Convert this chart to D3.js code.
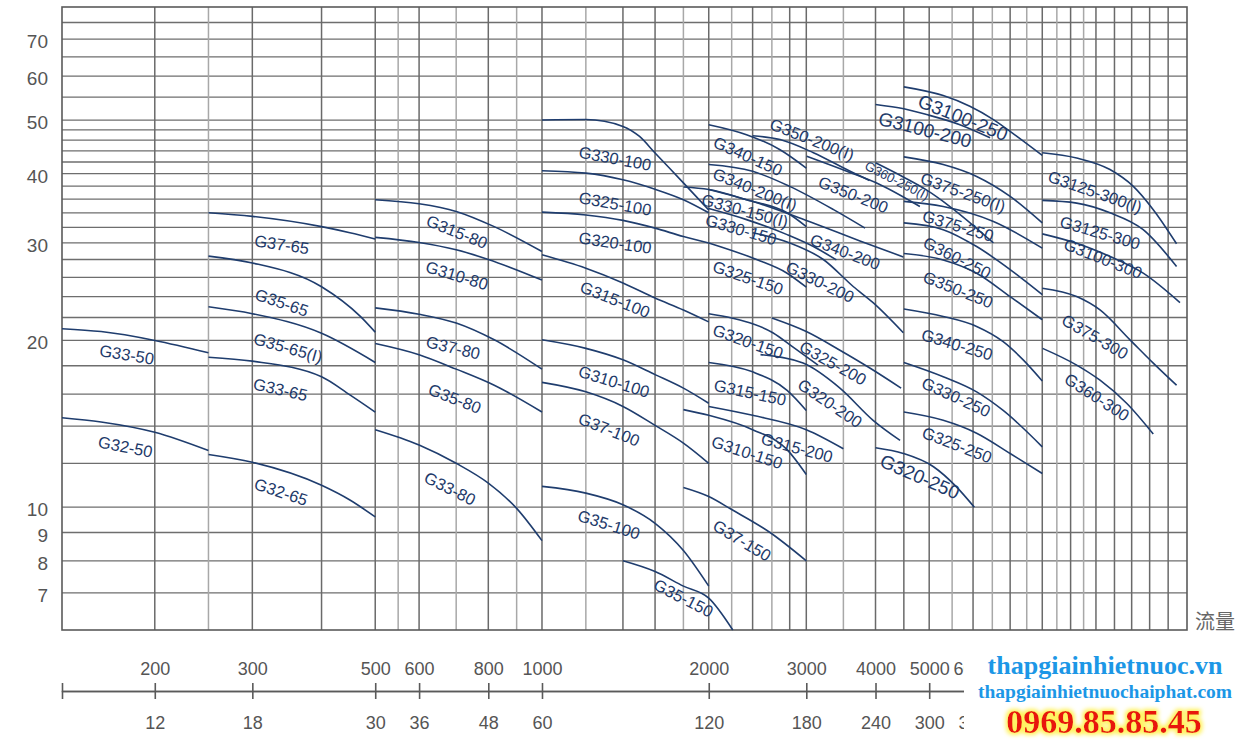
<!DOCTYPE html>
<html>
<head>
<meta charset="utf-8">
<script src="https://cdn.jsdelivr.net/npm/d3@7"></script>
<style>
  body { margin: 0; background: #fff; }
  text { font-family: "Liberation Sans", Arial, Helvetica, sans-serif; }
  text.wm { font-family: "Liberation Serif", "Times New Roman", serif; font-weight: bold; }
</style>
</head>
<body>
<script>
// head (m) on the left, flow (L/min above, m3/h below) along the bottom
const hTicks = [7, 8, 9, 10, 20, 30, 40, 50, 60, 70];
const hGrid = [7, 8, 9, 10, 12, 14, 16, 18, 20, 22, 24, 26, 28, 30, 32, 34, 36, 38, 40, 42, 44, 46, 48, 50, 55, 60, 65, 70, 75];
const qGrid = [200, 250, 300, 400, 500, 550, 600, 700, 800, 900, 1000, 1200, 1400, 1600, 1800, 2000, 2200, 2400, 2600, 2800,
               3000, 3500, 4000, 4500, 5000, 5500, 6000, 6500, 7000, 7500, 8000, 8500, 9000, 9500, 10000, 10800, 11600, 12500, 13500];
const qLight = [250, 550, 700, 900, 1200, 1800, 2200, 2600, 3500, 5500, 6500, 7500, 8500, 9500];
const qTicks = [200, 300, 500, 600, 800, 1000, 2000, 3000, 4000, 5000, 6000];
const m3hTicks = [12, 18, 30, 36, 48, 60, 120, 180, 240, 300, 360];

// pump curves: [model, [[flow L/min, head m], ...]]
const curves = [
  ["G33-50", [[136, 21.0], [160, 20.75], [200, 20.0], [250, 19.0]]],
  ["G32-50", [[136, 14.5], [160, 14.25], [200, 13.65], [250, 12.65]]],
  ["G37-65", [[250, 34.0], [300, 33.5], [400, 32.1], [450, 31.3], [500, 30.5]]],
  ["G35-65", [[250, 28.4], [300, 27.6], [400, 25.0], [470, 22.1], [500, 20.7]]],
  ["G35-65(I)", [[250, 23.0], [300, 22.35], [400, 20.6], [500, 18.25]]],
  ["G33-65", [[250, 18.65], [300, 18.35], [400, 17.2], [450, 15.95], [500, 14.85]]],
  ["G32-65", [[250, 12.45], [300, 12.05], [400, 10.95], [450, 10.3], [500, 9.6]]],
  ["G315-80", [[500, 35.9], [600, 35.3], [700, 34.2], [820, 32.1], [1000, 28.95]]],
  ["G310-80", [[500, 30.7], [600, 30.05], [700, 29.15], [800, 28.0], [1000, 25.7]]],
  ["G37-80", [[500, 22.9], [600, 22.3], [700, 21.5], [820, 20.05], [1000, 17.75]]],
  ["G35-80", [[500, 19.75], [600, 18.85], [700, 17.75], [820, 16.6], [1000, 14.85]]],
  ["G33-80", [[500, 13.8], [600, 12.95], [700, 12.0], [800, 11.05], [900, 9.95], [1000, 8.7]]],
  ["G330-100", [[1000, 50.0], [1200, 50.1], [1400, 48.7], [1500, 46.7], [1600, 43.6], [1800, 38.5], [2000, 34.4]]],
  ["G325-100", [[1000, 40.5], [1200, 40.1], [1400, 39.0], [1600, 37.5], [1800, 35.9], [2000, 34.0]]],
  ["G320-100", [[1000, 34.1], [1200, 33.7], [1400, 32.95], [1600, 31.9], [1800, 30.8], [2000, 30.0]]],
  ["G315-100", [[1000, 28.55], [1200, 27.0], [1400, 25.4], [1600, 23.85], [1800, 22.7], [2000, 21.6]]],
  ["G310-100", [[1000, 20.05], [1200, 19.35], [1400, 18.45], [1600, 17.35], [1800, 16.4], [2000, 15.4]]],
  ["G37-100", [[1000, 16.8], [1200, 16.15], [1400, 15.2], [1600, 14.05], [1800, 13.05], [2000, 12.0]]],
  ["G35-100", [[1000, 10.9], [1200, 10.6], [1400, 10.1], [1600, 9.35], [1800, 8.35], [2000, 7.2]]],
  ["G35-150", [[1400, 8.0], [1600, 7.65], [1800, 7.2], [2000, 6.85], [2210, 6.0]]],
  ["G37-150", [[1800, 10.85], [2000, 10.45], [2200, 9.9], [2580, 9.0], [3000, 8.0]]],
  ["G310-150", [[1800, 15.0], [2000, 14.65], [2400, 13.8], [2770, 12.7], [3000, 11.45]]],
  ["G315-200", [[2000, 15.2], [2400, 14.65], [3000, 13.8], [3500, 12.75]]],
  ["G315-150", [[2000, 18.25], [2400, 17.55], [2770, 16.25], [3000, 14.95]]],
  ["G320-150", [[2000, 22.35], [2200, 21.95], [2610, 20.65], [2840, 19.45], [3150, 18.05]]],
  ["G320-200", [[2480, 18.85], [2960, 18.2], [3450, 16.4], [3960, 14.35], [4430, 13.2]]],
  ["G325-200", [[2600, 21.95], [3000, 20.75], [3450, 19.2], [3900, 17.85], [4450, 16.4]]],
  ["G325-150", [[2000, 30.0], [2440, 28.0], [2770, 26.45], [3000, 24.95]]],
  ["G340-150", [[2000, 49.05], [2340, 47.05], [2690, 44.2], [3000, 40.95]]],
  ["G350-200(I)", [[2400, 46.85], [2690, 46.1], [3090, 43.65], [3600, 40.4], [3900, 38.9]]],
  ["G340-200(I)", [[2000, 41.55], [2400, 40.4], [2800, 37.95], [3360, 34.45], [3830, 31.9]]],
  ["G330-150(I)", [[1800, 37.85], [2000, 37.45], [2340, 35.9], [2770, 34.0], [3000, 32.1]]],
  ["G330-150", [[2000, 34.6], [2340, 33.05], [2770, 31.05], [3090, 29.55], [3400, 27.95]]],
  ["G340-200", [[2000, 37.45], [2475, 35.3], [3045, 32.75], [3750, 30.25], [4490, 28.3]]],
  ["G330-200", [[2400, 31.3], [2800, 30.0], [3220, 28.0], [3650, 25.0], [3960, 23.4], [4490, 20.65]]],
  ["G350-200", [[3005, 43.0], [3550, 40.4], [4070, 38.25], [4810, 34.9]]],
  ["G360-250(I)", [[4000, 41.85], [4490, 39.45], [4950, 37.35], [5450, 34.9], [6530, 30.0]]],
  ["G3100-250", [[4500, 57.4], [5300, 55.35], [5920, 52.95], [6530, 50.1], [7190, 46.75], [8000, 43.15]]],
  ["G3100-200", [[4000, 53.35], [4500, 52.4], [4950, 51.15], [5680, 49.05], [6440, 46.45]]],
  ["G375-250(I)", [[4500, 42.9], [5300, 41.55], [6090, 39.55], [7000, 36.4], [8000, 32.6]]],
  ["G375-250", [[4500, 35.65], [5300, 34.9], [6530, 32.8], [8000, 29.35]]],
  ["G360-250", [[4500, 32.6], [5300, 31.7], [6090, 29.55], [7000, 26.85], [8000, 24.2]]],
  ["G350-250", [[4500, 28.7], [5300, 27.95], [6090, 26.45], [7000, 24.0], [8000, 21.8]]],
  ["G340-250", [[4500, 22.8], [5300, 22.1], [6090, 21.2], [6800, 19.9], [7390, 18.45], [8000, 16.9]]],
  ["G330-250", [[4500, 18.25], [5300, 17.2], [6090, 16.15], [6800, 14.95], [8000, 12.85]]],
  ["G325-250", [[4500, 14.85], [5300, 14.35], [6090, 13.6], [7000, 12.5], [8000, 11.5]]],
  ["G320-250", [[4000, 12.8], [4490, 12.5], [5090, 11.83], [5600, 10.88], [6030, 10.0]]],
  ["G3125-300(I)", [[8000, 43.65], [9230, 42.7], [10600, 40.7], [11680, 37.95], [12690, 34.45], [13980, 29.9]]],
  ["G3125-300", [[8000, 35.8], [9230, 35.4], [10600, 34.0], [12170, 31.7], [13980, 27.2]]],
  ["G3100-300", [[8000, 31.15], [9230, 29.95], [10600, 28.35], [12170, 26.45], [14180, 23.4]]],
  ["G375-300", [[8000, 24.85], [9230, 24.0], [10170, 22.7], [11520, 20.05], [12690, 18.2], [13980, 16.6]]],
  ["G360-300", [[8010, 19.35], [9230, 18.05], [10170, 16.95], [11360, 15.4], [12690, 13.55]]]
];

// where each model name sits: [model, flow, head]
const labels = [
  ["G33-50", 178, 18.85], ["G32-50", 177, 12.85], ["G37-65", 339, 29.8], ["G35-65", 339, 23.4],
  ["G35-65(I)", 348, 19.4], ["G33-65", 337, 16.3], ["G32-65", 338, 10.65],
  ["G315-80", 702, 31.4], ["G310-80", 702, 26.2], ["G37-80", 691, 19.4], ["G35-80", 696, 15.7], ["G33-80", 682, 10.8],
  ["G330-100", 1355, 42.6], ["G325-100", 1355, 35.3], ["G320-100", 1355, 30.0], ["G315-100", 1355, 23.7],
  ["G310-100", 1349, 16.85], ["G37-100", 1321, 13.8], ["G35-100", 1321, 9.3], ["G35-150", 1800, 6.85],
  ["G340-150", 2354, 43.0], ["G350-200(I)", 3072, 46.1], ["G340-200(I)", 2424, 37.45], ["G330-150(I)", 2325, 34.3],
  ["G330-150", 2287, 31.7], ["G350-200", 3647, 36.65], ["G360-250(I)", 4373, 38.85], ["G340-200", 3524, 28.9],
  ["G325-150", 2354, 25.95], ["G330-200", 3176, 25.5], ["G320-150", 2354, 19.9], ["G325-200", 3351, 18.2],
  ["G315-150", 2374, 16.1], ["G320-200", 3310, 15.4], ["G310-150", 2345, 12.55], ["G315-200", 2886, 12.8],
  ["G37-150", 2296, 8.7],
  ["G3100-250", 5754, 50.5], ["G3100-200", 4912, 48.05], ["G375-250(I)", 5754, 37.0], ["G375-250", 5636, 32.2],
  ["G360-250", 5613, 28.2], ["G350-250", 5636, 24.7], ["G340-250", 5613, 19.65], ["G330-250", 5590, 15.8],
  ["G325-250", 5613, 12.95], ["G320-250", 4811, 11.35],
  ["G3125-300(I)", 9958, 37.1], ["G3125-300", 10170, 31.3], ["G3100-300", 10295, 28.1],
  ["G375-300", 9958, 20.3], ["G360-300", 10040, 15.8]
];

const bigNames = new Set(["G3100-200", "G3100-250", "G320-250"]);
const smallNames = new Set(["G360-250(I)"]);

const width = 1244, height = 749;
const plot = { left: 62, right: 1187, top: 7, bottom: 630 };

const x = d3.scaleLog().domain([136, 14600]).range([plot.left, plot.right]);
const xm = d3.scaleLog().domain([136 * 0.06, 14600 * 0.06]).range([plot.left, plot.right]);
const y = d3.scaleLog().domain([6, 80]).range([plot.bottom, plot.top]);

const svg = d3.select("body").append("svg")
    .attr("width", width)
    .attr("height", height)
    .attr("viewBox", [0, 0, width, height]);

// glow for the phone number
const glow = svg.append("defs").append("filter")
    .attr("id", "glow").attr("x", "-10%").attr("y", "-40%").attr("width", "120%").attr("height", "180%");
glow.append("feMorphology").attr("in", "SourceAlpha").attr("operator", "dilate").attr("radius", 1.5).attr("result", "d");
glow.append("feGaussianBlur").attr("in", "d").attr("stdDeviation", 2).attr("result", "b");
glow.append("feFlood").attr("flood-color", "#fff25a");
glow.append("feComposite").attr("in2", "b").attr("operator", "in").attr("result", "g");
const merge = glow.append("feMerge");
merge.append("feMergeNode").attr("in", "g");
merge.append("feMergeNode").attr("in", "SourceGraphic");

// grid
svg.append("g")
  .selectAll("line")
  .data(hGrid)
  .join("line")
    .attr("x1", plot.left).attr("x2", plot.right)
    .attr("y1", d => y(d)).attr("y2", d => y(d))
    .attr("stroke", "#6e6e6e")
    .attr("stroke-width", 1.3);

svg.append("g")
  .selectAll("line")
  .data(qGrid)
  .join("line")
    .attr("x1", d => x(d)).attr("x2", d => x(d))
    .attr("y1", plot.top).attr("y2", plot.bottom)
    .attr("stroke", d => qLight.includes(d) ? "#a8a8a8" : "#6a6a6a")
    .attr("stroke-width", 1.5);

svg.append("rect")
    .attr("x", plot.left).attr("y", plot.top)
    .attr("width", plot.right - plot.left).attr("height", plot.bottom - plot.top)
    .attr("fill", "none")
    .attr("stroke", "#5a5a5a")
    .attr("stroke-width", 1.6);

// head labels
svg.append("g")
    .attr("transform", `translate(${plot.left},0)`)
    .call(d3.axisLeft(y).tickValues(hTicks).tickFormat(d3.format("d")).tickSize(0).tickPadding(14))
    .call(g => g.select(".domain").remove())
    .call(g => g.selectAll("text")
        .attr("dy", "0.45em")
        .attr("fill", "#555")
        .style("font-size", "19px")
        .style("font-family", "'Liberation Sans', Arial, sans-serif"));

// flow scales
const axisY = 691;
svg.append("g")
    .attr("transform", `translate(0,${axisY})`)
    .call(d3.axisTop(x).tickValues(qTicks).tickFormat(d3.format("d")).tickSize(8).tickPadding(8))
    .call(g => g.selectAll("line, path").attr("stroke", "#5a5a5a").attr("stroke-width", 1.6))
    .call(g => g.selectAll("text")
        .attr("fill", "#555")
        .style("font-size", "18px")
        .style("font-family", "'Liberation Sans', Arial, sans-serif"));

svg.append("g")
    .attr("transform", `translate(0,${axisY})`)
    .call(d3.axisBottom(xm).tickValues(m3hTicks).tickFormat(d3.format("d")).tickSize(8).tickPadding(17))
    .call(g => g.selectAll("line, path").attr("stroke", "#5a5a5a").attr("stroke-width", 1.6))
    .call(g => g.selectAll("text")
        .attr("fill", "#555")
        .style("font-size", "18px")
        .style("font-family", "'Liberation Sans', Arial, sans-serif"));

svg.append("text")
    .attr("x", plot.right + 8)
    .attr("y", 629)
    .attr("fill", "#666")
    .style("font-size", "20px")
    .style("font-family", "'Noto Sans CJK SC', sans-serif")
    .text("流量");

// curves
const line = d3.line()
    .x(d => x(d[0]))
    .y(d => y(d[1]))
    .curve(d3.curveMonotoneX);

svg.append("g")
    .attr("fill", "none")
    .attr("stroke", "#1f3d6e")
    .attr("stroke-width", 1.6)
  .selectAll("path")
  .data(curves)
  .join("path")
    .attr("d", d => line(d[1]));

const byName = new Map(curves);

function slopeAngle(pts, q) {
  const px = pts.map(p => [x(p[0]), y(p[1])]);
  const cx = x(q);
  let i = 0;
  while (i < px.length - 2 && px[i + 1][0] < cx) i++;
  const a = px[i], b = px[i + 1];
  return Math.atan2(b[1] - a[1], b[0] - a[0]) * 180 / Math.PI;
}

svg.append("g")
    .attr("fill", "#1e3a6a")
    .attr("text-anchor", "middle")
  .selectAll("text")
  .data(labels)
  .join("text")
    .attr("transform", d => `translate(${x(d[1])},${y(d[2])}) rotate(${slopeAngle(byName.get(d[0]), d[1])})`)
    .attr("dy", "0.35em")
    .style("font-size", d => bigNames.has(d[0]) ? "19px" : smallNames.has(d[0]) ? "13px" : "16.5px")
    .text(d => d[0]);

// watermark block
svg.append("rect")
    .attr("x", 964).attr("y", 645)
    .attr("width", width - 964).attr("height", height - 645)
    .attr("fill", "#fff");

const wm = svg.append("g")
    .attr("text-anchor", "middle");

wm.append("text")
    .attr("class", "wm")
    .attr("x", 1105).attr("y", 674)
    .attr("fill", "#1c97e6")
    .style("font-size", "26px")
    .text("thapgiainhietnuoc.vn");

wm.append("text")
    .attr("class", "wm")
    .attr("x", 1105).attr("y", 698)
    .attr("fill", "#1c97e6")
    .style("font-size", "19.5px")
    .text("thapgiainhietnuochaiphat.com");

wm.append("text")
    .attr("class", "wm")
    .attr("x", 1104).attr("y", 733)
    .attr("fill", "#e8120f")
    .attr("filter", "url(#glow)")
    .style("font-size", "34px")
    .text("0969.85.85.45");
</script>
</body>
</html>
